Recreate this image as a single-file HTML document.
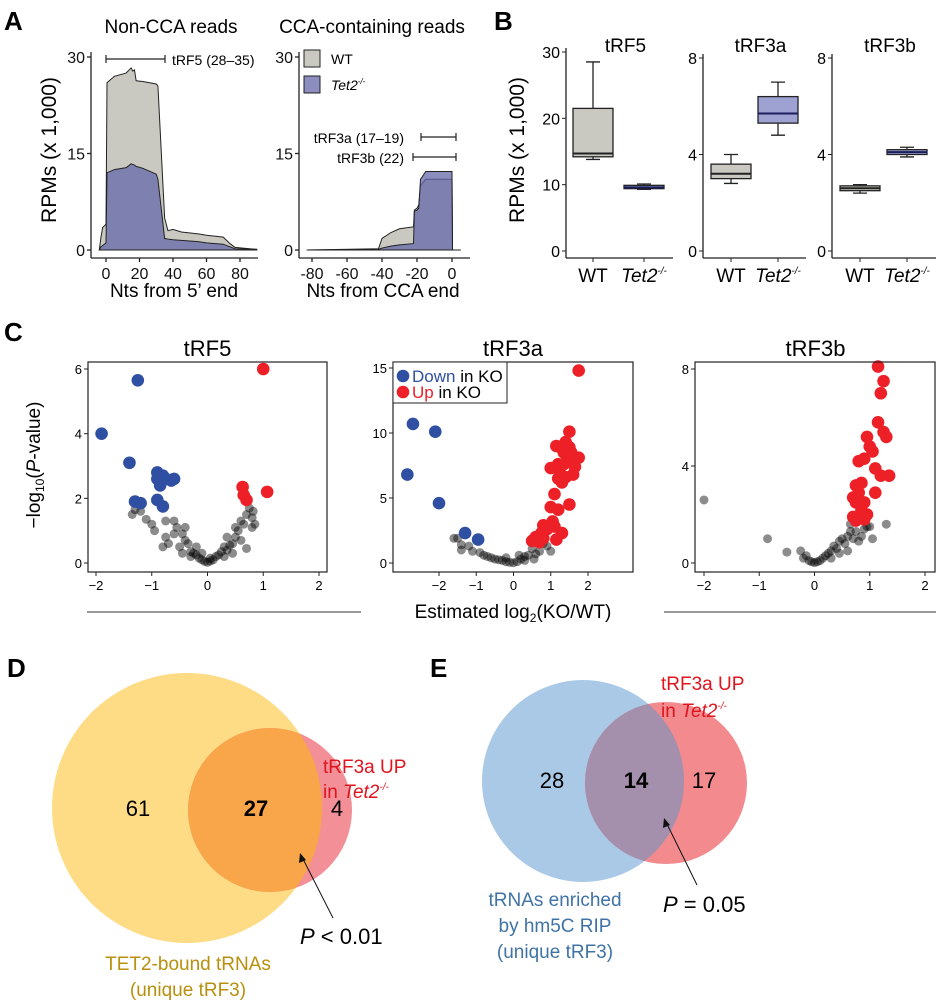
<!DOCTYPE html>
<html><head><meta charset="utf-8">
<style>
body{margin:0;background:#fff;}
svg{display:block;font-family:"Liberation Sans",sans-serif;}
.n{font-family:"Liberation Sans Narrow","Liberation Sans",sans-serif;}
</style></head>
<body>
<svg id="fig" width="936" height="1001" viewBox="0 0 936 1001" xmlns="http://www.w3.org/2000/svg">
<g font-weight="bold" font-size="26">
<text x="4" y="30">A</text>
<text x="494" y="30">B</text>
<text x="4" y="341">C</text>
<text x="7" y="677">D</text>
<text x="430" y="677">E</text>
</g>
<!-- Panel A static text -->
<text x="171" y="33" font-size="19" text-anchor="middle">Non-CCA reads</text>
<text x="372" y="33" font-size="19" text-anchor="middle">CCA-containing reads</text>
<text transform="translate(56,150) rotate(-90)" font-size="21" text-anchor="middle">RPMs (x 1,000)</text>
<text x="174" y="297" font-size="19" text-anchor="middle">Nts from 5’ end</text>
<text x="383" y="297" font-size="19" text-anchor="middle">Nts from CCA end</text>
<g>
<rect x="304" y="50" width="16" height="17" fill="#c9c9c1" stroke="#222"/>
<text x="331" y="64" font-size="14">WT</text>
<rect x="304" y="76" width="16" height="17" fill="#8b8ebf" stroke="#222"/>
<text x="331" y="90" font-size="14" font-style="italic">Tet2<tspan font-size="8" dy="-6">-/-</tspan></text>
</g>
<g stroke="#222" stroke-width="1.2">
<path d="M106,59H165M106,55V63M165,55V63"/>
<path d="M421,137H456M421,133V141M456,133V141"/>
<path d="M413,157H456M413,153V161M456,153V161"/>
</g>
<text x="172" y="65" font-size="14">tRF5 (28–35)</text>
<text x="404" y="143" font-size="14" text-anchor="end">tRF3a (17–19)</text>
<text x="404" y="163" font-size="14" text-anchor="end">tRF3b (22)</text>
<!-- Panel B text -->
<text transform="translate(524,150) rotate(-90)" font-size="21" text-anchor="middle">RPMs (x 1,000)</text>
<!-- Panel C text -->
<text transform="translate(40,465) rotate(-90)" font-size="19" text-anchor="middle">−log<tspan font-size="12" dy="4">10</tspan><tspan dy="-4">(</tspan><tspan font-style="italic">P</tspan>-value)</text>
<line x1="87" y1="612" x2="361" y2="612" stroke="#333"/>
<line x1="664" y1="612" x2="936" y2="612" stroke="#333"/>
<text class="n" x="513" y="618" font-size="19" text-anchor="middle">Estimated log<tspan font-size="12" dy="4">2</tspan><tspan dy="-4">(KO/WT)</tspan></text>
<!-- Panel D -->
<g>
<circle cx="187" cy="808" r="135" fill="#fddc85"/>
<circle cx="270" cy="810" r="82" fill="#ef6a73" fill-opacity="0.75"/>
<clipPath id="cd"><circle cx="187" cy="808" r="135"/></clipPath>
<circle cx="270" cy="810" r="82" fill="#f9a54a" clip-path="url(#cd)"/>
<text x="138" y="816" font-size="22" text-anchor="middle">61</text>
<text x="256" y="816" font-size="22" font-weight="bold" text-anchor="middle">27</text>
<text x="337" y="816" font-size="22" text-anchor="middle">4</text>
<text x="323" y="773" font-size="19" fill="#e0141e">tRF3a UP</text>
<text x="323" y="798" font-size="19" fill="#e0141e">in <tspan font-style="italic">Tet2</tspan><tspan font-size="10" dy="-8" font-style="italic">-/-</tspan></text>
<text x="188" y="970" font-size="19" fill="#b8900e" text-anchor="middle">TET2-bound tRNAs</text>
<text x="188" y="996" font-size="19" fill="#b8900e" text-anchor="middle">(unique tRF3)</text>
<line x1="333" y1="918" x2="302" y2="857" stroke="#111"/>
<path d="M300,853 L299,863 L306,860 Z" fill="#111"/>
<text x="300" y="944" font-size="22"><tspan font-style="italic">P</tspan> &lt; 0.01</text>
</g>
<!-- Panel E -->
<g>
<circle cx="583" cy="781" r="101" fill="#a9c9e6"/>
<circle cx="666" cy="783" r="81" fill="#f28a8e"/>
<clipPath id="ce"><circle cx="583" cy="781" r="101"/></clipPath>
<circle cx="666" cy="783" r="81" fill="#a48fac" clip-path="url(#ce)"/>
<text x="552" y="788" font-size="22" text-anchor="middle">28</text>
<text x="636" y="788" font-size="22" font-weight="bold" text-anchor="middle">14</text>
<text x="704" y="788" font-size="22" text-anchor="middle">17</text>
<text x="661" y="690" font-size="19" fill="#e0141e">tRF3a UP</text>
<text x="661" y="717" font-size="19" fill="#e0141e">in <tspan font-style="italic">Tet2</tspan><tspan font-size="10" dy="-8" font-style="italic">-/-</tspan></text>
<text x="555" y="906" font-size="19" fill="#3f73a6" text-anchor="middle">tRNAs enriched</text>
<text x="555" y="932" font-size="19" fill="#3f73a6" text-anchor="middle">by hm5C RIP</text>
<text x="555" y="958" font-size="19" fill="#3f73a6" text-anchor="middle">(unique tRF3)</text>
<line x1="697" y1="885" x2="666" y2="822" stroke="#111"/>
<path d="M664,818 L663,828 L670,825 Z" fill="#111"/>
<text x="663" y="912" font-size="22"><tspan font-style="italic">P</tspan> = 0.05</text>
</g>
<g id="dyn"></g>
</svg>
<script>
// Panel A data (nt position, RPM x1000)
const aLeftNt = [-4,-3,-2,0,0.6,5,12,15,16,17,18,22,30,31,35,37,40,45,55,60,70,74,77,90];
const aLeftWT = [0,2,3.5,4,26,27,27.5,28.3,27.8,28,26.3,26.2,25.8,25.5,5,3,3.2,2.8,2.5,2.3,2,1,0.4,0.1];
const aLeftKO = [0,0.5,0.7,1.1,12,12.5,12.8,13.4,13.3,13.2,13,12.7,11.8,11,1.8,1.7,1.6,1.5,1.3,1.1,0.9,0.5,0.2,0.1];
const aRightNt = [-83,-42,-40,-35,-30,-22,-21.5,-20,-19,-18,-15,0,0.3,5];
const aRightWT = [0,0.2,1.8,2.7,3.3,3.6,6.2,6.5,7,10,11,11,0,0];
const aRightKO = [0,0.1,0.3,0.6,0.8,1,6,6.2,6.5,11,12.2,12.2,0,0];
const aTicksY = [0,15,30];
const aTicksXLeft = [0,20,40,60,80];
const aTicksXRight = [-80,-60,-40,-20,0];
// Panel B data: [whisker low, q1, median, q3, whisker high]
const bTitles = ["tRF5","tRF3a","tRF3b"];
const bGroups = ["WT","Tet2"];
const bWT = [[13.8,14.2,14.7,21.5,28.5],[2.8,3.0,3.2,3.6,4.0],[2.4,2.5,2.6,2.7,2.75]];
const bKO = [[9.3,9.4,9.6,9.9,10.1],[4.8,5.3,5.7,6.4,7.0],[3.9,4.0,4.1,4.2,4.3]];
const bTicks = [[0,10,20,30],[0,4,8],[0,4,8]];
// Panel C data
const cTitles = ["tRF5","tRF3a","tRF3b"];
const cYTicks = [[0,2,4,6],[0,5,10,15],[0,4,8]];
const cXTicks = [[-2,-1,0,1,2],[-2,-1,0,1,2],[-2,-1,0,1,2]];
const c1Grey = [[-1.35,1.5],[-1.2,1.6],[-1.3,1.65],[-1,1.2],[-0.95,1],[-0.75,1.3],[-0.6,1.3],[-0.55,1.1],[-0.45,0.9],[-0.4,1.1],[-0.7,0.6],[-0.75,0.8],[-0.5,0.5],[-0.45,0.3],[-0.35,0.6],[-0.3,0.35],[-0.3,0.2],[-0.25,0.3],[-0.2,0.25],[-0.15,0.15],[-0.1,0.1],[-0.05,0.05],[0,0.02],[0.05,0.06],[0.1,0.1],[0.15,0.2],[0.2,0.25],[0.25,0.35],[0.3,0.5],[0.35,0.4],[0.4,0.55],[0.45,0.6],[0.5,0.8],[0.55,1],[0.5,1.1],[0.6,1.3],[0.65,1.2],[0.7,1.5],[0.75,1.7],[0.8,1.4],[0.82,1.6],[0.45,0.3],[0.3,0.2],[-0.2,0.5],[-0.6,0.9],[-0.8,0.5],[0.6,0.7],[0.7,0.45],[0.8,1.1],[-0.1,0.3],[0.05,0.15],[-1.1,1.35],[0.85,1.2],[0.35,0.8],[-0.4,0.7]];
const c1Blue = [[-1.9,4],[-1.25,5.65],[-1.4,3.1],[-1.3,1.9],[-1.2,1.85],[-0.9,2.8],[-0.9,2.6],[-0.85,2.4],[-0.75,2.6],[-0.65,2.55],[-0.9,1.95],[-0.8,1.75],[-0.6,2.6],[-0.8,2.7]];
const c1Red = [[1,6],[0.63,2.35],[0.65,2.1],[0.7,1.95],[1.07,2.2]];
const c2Grey = [[-1.6,1.9],[-1.5,1.9],[-1.4,1.4],[-1.4,1],[-1.2,1.3],[-1.1,0.9],[-0.9,0.8],[-0.8,0.6],[-0.7,0.5],[-0.6,0.4],[-0.5,0.3],[-0.4,0.25],[-0.3,0.2],[-0.2,0.1],[-0.1,0.05],[0,0.02],[0.1,0.1],[0.2,0.3],[0.3,0.5],[0.4,0.6],[0.5,1.1],[0.6,0.7],[0.7,0.9],[0.8,1.5],[0.9,1.3],[0.55,0.3],[-0.2,0.4],[0.3,0.2],[1,0.9],[0.15,0.6]];
const c2Blue = [[-2.7,10.7],[-2.1,10.1],[-2.85,6.8],[-2,4.6],[-1.3,2.3],[-0.95,1.8]];
const c2Red = [[1.75,14.8],[1.5,10.1],[1.4,9.3],[1.15,9],[1.3,8.8],[1.55,8.5],[1.35,8.5],[1.5,8.9],[1.75,8.1],[1.2,7.6],[1.35,7.6],[1.65,7.4],[1,7.3],[1.6,6.8],[1.2,6.5],[1.3,6.2],[1.25,6.9],[1.1,5.3],[1.5,4.5],[1,4.3],[1.2,4.1],[1.05,3.2],[1.1,2.8],[0.9,2.6],[0.8,2.9],[0.75,2.3],[1.3,2.3],[0.6,2],[0.55,1.8],[0.8,1.9],[0.7,1.6],[0.5,1.7],[1.15,1.8],[1.4,6.6],[1.45,7.9]];
const c3Grey = [[-2,2.6],[-0.85,1],[-0.5,0.45],[-0.25,0.5],[-0.2,0.2],[-0.1,0.1],[-0.05,0.05],[0,0.02],[0.05,0.05],[0.1,0.1],[0.15,0.2],[0.2,0.3],[0.25,0.4],[0.3,0.5],[0.35,0.7],[0.4,0.6],[0.45,0.9],[0.5,1],[0.55,0.8],[0.6,1.1],[0.65,1.6],[0.7,1],[0.75,1.3],[0.8,0.9],[0.85,1.1],[0.9,1.4],[0.95,1.5],[1,1.5],[1.3,1.6],[-0.15,0.3],[0.3,0.2],[0.45,0.4],[0.6,0.5],[0.65,1.3],[1.05,1]];
const c3Blue = [];
const c3Red = [[1.15,8.1],[1.25,7.5],[1.2,7],[1.15,5.8],[1.25,5.4],[1.3,5.2],[0.95,5.2],[1,4.8],[1.05,4.6],[0.9,4.3],[0.8,4.2],[1.1,3.9],[1.35,3.6],[1.2,3.6],[0.85,3.3],[0.75,3.2],[0.8,2.9],[0.7,2.7],[0.75,2.5],[1.1,2.9],[0.9,2.5],[0.85,2.2],[0.95,2],[0.7,1.9],[0.75,1.75],[0.9,1.8]];

const NS="http://www.w3.org/2000/svg";
const root=document.getElementById('dyn');
function mk(tag,attrs,parent){const e=document.createElementNS(NS,tag);for(const k in attrs)e.setAttribute(k,attrs[k]);(parent||root).appendChild(e);return e;}
function lin(d0,d1,r0,r1){return v=>r0+(v-d0)*(r1-r0)/(d1-d0);}

// ---- Panel A ----
function areaPanel(nts,wt,ko,sx,sy,name){
  const g=mk('g',{});
  
  
  [[wt,'#c9c9c1','1','area-wt'],[ko,'#6468aa','0.75','area-ko']].forEach(s=>{
    let d='M'+sx(nts[0])+','+sy(0);
    nts.forEach((n,i)=>{d+=' L'+sx(n)+','+sy(s[0][i]);});
    d+=' L'+sx(nts[nts.length-1])+','+sy(0)+' Z';
    const p=mk('path',{d:d,fill:s[1],'fill-opacity':s[2],stroke:'#222','stroke-width':'1'},g);
    
    
  });
}
function axesA(x0,x1,yTop,yBase,sx,sy,xt,name){
  const g=mk('g',{stroke:'#222','stroke-width':'1.3'});
  
  
  mk('line',{x1:x0,y1:yTop,x2:x0,y2:yBase},g);
  mk('line',{x1:x0,y1:yBase,x2:x1,y2:yBase},g);
  aTicksY.forEach(v=>{
    mk('line',{x1:x0-4,y1:sy(v),x2:x0,y2:sy(v)},g);
    const t=mk('text',{x:x0-6,y:sy(v)+6,'font-size':'16','text-anchor':'end',stroke:'none',fill:'#111'},g);
    t.textContent=v;
    
    
  });
  xt.forEach(v=>{
    mk('line',{x1:sx(v),y1:yBase,x2:sx(v),y2:yBase+4},g);
    const t=mk('text',{x:sx(v),y:yBase+21,'font-size':'16','text-anchor':'middle',stroke:'none',fill:'#111'},g);
    t.textContent=v;
    
    
  });
}
const aSy=lin(0,30,250,57);
const aSxL=lin(0,80,106,240);
const aSxR=lin(-80,0,312,452);
areaPanel(aLeftNt,aLeftWT,aLeftKO,aSxL,aSy,'a-left-areas');
areaPanel(aRightNt,aRightWT,aRightKO,aSxR,aSy,'a-right-areas');
axesA(91,258,52,258,aSxL,aSy,aTicksXLeft,'a-left-axes');
axesA(299,470,52,258,aSxR,aSy,aTicksXRight,'a-right-axes');

// ---- Panel B ----
const bAxisX=[566,703,832], bAxisEnd=[673,806,936], bMax=[30,8,8], bTop=[52,58,58];
const bWTx=[593,731,860], bKOx=[644,778,907];
bTitles.forEach((title,i)=>{
  const g=mk('g',{});
  
  
  const sy=lin(0,bMax[i],251,bTop[i]);
  const tt=mk('text',{x:(bAxisX[i]+bAxisEnd[i])/2+6,y:52,'font-size':'19','text-anchor':'middle'},g);
  tt.textContent=title;
  
  
  mk('line',{x1:bAxisX[i],y1:bTop[i]-4,x2:bAxisX[i],y2:258,stroke:'#222','stroke-width':'1.3'},g);
  mk('line',{x1:bAxisX[i],y1:258,x2:bAxisEnd[i],y2:258,stroke:'#222','stroke-width':'1.3'},g);
  bTicks[i].forEach(v=>{
    mk('line',{x1:bAxisX[i]-4,y1:sy(v),x2:bAxisX[i],y2:sy(v),stroke:'#222'},g);
    const t=mk('text',{x:bAxisX[i]-6,y:sy(v)+6,'font-size':'16','text-anchor':'end'},g);
    t.textContent=v;
    
    
  });
  [[bWT[i],bWTx[i],'#c9c9c1','#222','WT'],[bKO[i],bKOx[i],'#9ea2d2','#1a1d5c','Tet2']].forEach(s=>{
    const q=s[0],cx=s[1];
    mk('line',{x1:cx,y1:258,x2:cx,y2:262,stroke:'#222'},g);
    const w=mk('path',{d:`M${cx},${sy(q[0])}V${sy(q[1])}M${cx},${sy(q[3])}V${sy(q[4])}M${cx-7},${sy(q[0])}H${cx+7}M${cx-7},${sy(q[4])}H${cx+7}`,stroke:'#222','stroke-width':'1.3',fill:'none'},g);
    
    
    const b=mk('rect',{x:cx-20,y:sy(q[3]),width:40,height:Math.max(1,sy(q[1])-sy(q[3])),fill:s[2],stroke:'#222','stroke-width':'1.3'},g);
    
    
    const m=mk('line',{x1:cx-20,y1:sy(q[2]),x2:cx+20,y2:sy(q[2]),stroke:s[3],'stroke-width':'2'},g);
    
    
    const t=mk('text',{x:cx,y:282,'font-size':'19','text-anchor':'middle','font-style':s[4]==='WT'?'normal':'italic'},g);
    t.textContent=s[4];
    if(s[4]==='Tet2'){const sp=mk('tspan',{'font-size':'10',dy:'-8'},t);sp.textContent='-/-';}
    
    
  });
});

// ---- Panel C ----
const cBox=[[88,327],[393,633],[695,936]];
const cX=[lin(-2,2,96,319),lin(-2,2,439,588),lin(-2,2,704,925)];
const cYmax=[6,15,8];
const cYtop=[369,368,369];
const cData=[[c1Grey,c1Blue,c1Red],[c2Grey,c2Blue,c2Red],[c3Grey,c3Blue,c3Red]];
cTitles.forEach((title,i)=>{
  const g=mk('g',{});
  
  
  const sx=cX[i], sy=lin(0,cYmax[i],563,cYtop[i]);
  const tt=mk('text',{class:'n',x:(cBox[i][0]+cBox[i][1])/2,y:356,'font-size':'22','text-anchor':'middle'},g);
  tt.textContent=title;
  
  
  const [grey,blue,red]=cData[i];
  grey.forEach(p=>{
    const c=mk('circle',{cx:sx(p[0]),cy:sy(p[1]),r:4.5,fill:'#000','fill-opacity':'0.45'},g);
    
    
  });
  blue.forEach(p=>{
    const c=mk('circle',{cx:sx(p[0]),cy:sy(p[1]),r:6.3,fill:'#2f4fa2'},g);
    
    
  });
  red.forEach(p=>{
    const c=mk('circle',{cx:sx(p[0]),cy:sy(p[1]),r:6.3,fill:'#ee2027'},g);
    
    
  });
  mk('rect',{x:cBox[i][0],y:362,width:cBox[i][1]-cBox[i][0]-(i===2?1:0),height:210,fill:'none',stroke:'#222','stroke-width':'1.2'},g);
  cYTicks[i].forEach(v=>{
    mk('line',{x1:cBox[i][0]-4,y1:sy(v),x2:cBox[i][0],y2:sy(v),stroke:'#222'},g);
    const t=mk('text',{class:'n',x:cBox[i][0]-6,y:sy(v)+5,'font-size':'13','text-anchor':'end'},g);
    t.textContent=v;
    
    
  });
  cXTicks[i].forEach(v=>{
    mk('line',{x1:sx(v),y1:572,x2:sx(v),y2:576,stroke:'#222'},g);
    const t=mk('text',{class:'n',x:sx(v),y:590,'font-size':'13','text-anchor':'middle'},g);
    t.textContent=(v<0?'−':'')+Math.abs(v);
    
    
  });
});
// legend in tRF3a
const lg=mk('g',{});


mk('rect',{x:393,y:362,width:114,height:41,fill:'#fff',stroke:'#222'},lg);
mk('circle',{cx:403,cy:376,r:6.3,fill:'#2f4fa2'},lg);
mk('circle',{cx:403,cy:392,r:6.3,fill:'#ee2027'},lg);
const l1=mk('text',{class:'n',x:412,y:382,'font-size':'17'},lg);
l1.innerHTML='<tspan fill="#2f4fa2">Down</tspan> in KO';


const l2=mk('text',{class:'n',x:412,y:398,'font-size':'17'},lg);
l2.innerHTML='<tspan fill="#ee2027">Up</tspan> in KO';


</script>
</body></html>
